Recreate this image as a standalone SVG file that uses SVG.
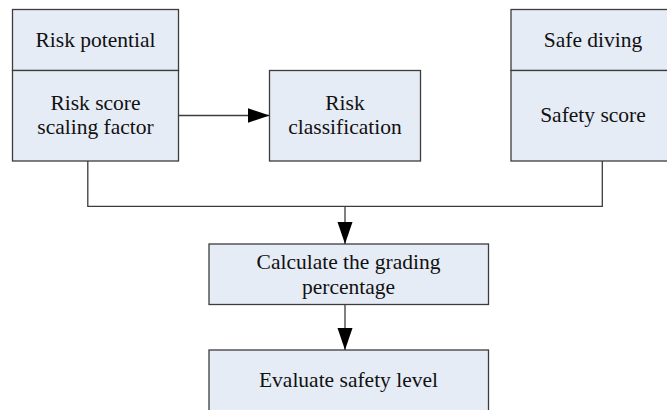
<svg xmlns="http://www.w3.org/2000/svg" width="667" height="410" viewBox="0 0 667 410">
<style>
.box{fill:#E6ECF6;stroke:#3C3C3C;stroke-width:1.3}
.t{font-family:"Liberation Serif","Times New Roman",serif;font-size:21.5px;fill:#111;text-anchor:middle}
.c{fill:none;stroke:#3C3C3C;stroke-width:1.3}
</style>
<defs>
<marker id="ah" markerUnits="userSpaceOnUse" markerWidth="22" markerHeight="16" refX="22" refY="8" orient="auto">
<path d="M0,0.5 L22,8 L0,15.5 Z" fill="#000"/>
</marker>
</defs>
<rect width="667" height="410" fill="#fff"/>
<g id="risk-potential">
<rect class="box" x="12.5" y="9.5" width="166" height="61"/>
<text class="t" x="95.5" y="46.5">Risk potential</text>
</g>
<g id="risk-score">
<rect class="box" x="12.5" y="70.5" width="166" height="90.5"/>
<text class="t" x="95.5" y="109.5">Risk score</text>
<text class="t" x="95.5" y="133.5">scaling factor</text>
</g>
<g id="risk-classification">
<rect class="box" x="269.5" y="70.5" width="151" height="90.5"/>
<text class="t" x="345" y="109.5">Risk</text>
<text class="t" x="345" y="133.5">classification</text>
</g>
<g id="safe-diving">
<rect class="box" x="511" y="9.5" width="166" height="61"/>
<text class="t" x="593" y="46.5">Safe diving</text>
</g>
<g id="safety-score">
<rect class="box" x="511" y="70.5" width="166" height="90.5"/>
<text class="t" x="593" y="122">Safety score</text>
</g>
<g id="calculate">
<rect class="box" x="209" y="244" width="279.5" height="60.5"/>
<text class="t" x="348.5" y="268.5">Calculate the grading</text>
<text class="t" x="348.5" y="293.5">percentage</text>
</g>
<g id="evaluate">
<rect class="box" x="209" y="350" width="279.5" height="70"/>
<text class="t" x="348.5" y="387">Evaluate safety level</text>
</g>
<g id="connectors">
<line class="c" x1="178.5" y1="115.5" x2="269.5" y2="115.5" marker-end="url(#ah)"/>
<polyline class="c" points="87.8,161 87.8,206.3 602.3,206.3 602.3,161"/>
<line class="c" x1="345" y1="206.3" x2="345" y2="244" marker-end="url(#ah)"/>
<line class="c" x1="345" y1="304.5" x2="345" y2="350" marker-end="url(#ah)"/>
</g>
</svg>
